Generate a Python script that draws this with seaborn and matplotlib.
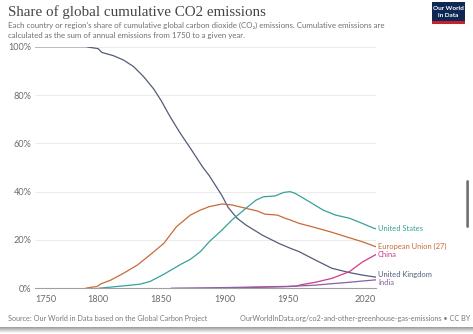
import numpy as np
import pandas as pd
import matplotlib
matplotlib.use("Agg")
import matplotlib.pyplot as plt
from matplotlib.patches import FancyBboxPatch, Rectangle
import seaborn as sns

# Share of global cumulative CO2 emissions (%), by country / region
uk_years = [1750, 1790, 1800, 1803, 1812, 1820, 1828, 1836, 1844, 1850, 1857, 1865,
            1873, 1883, 1888, 1893, 1898, 1903, 1910, 1917, 1930, 1943, 1952, 1959,
            1972, 1985, 1999, 2009, 2020]
uk_share = [100, 100, 99.2, 97.6, 96.3, 94.5, 91.8, 87.6, 82.5, 77.6, 71.0, 64.2,
            58.0, 50.0, 46.6, 42.5, 38.4, 33.4, 29.0, 26.2, 22.0, 18.6, 16.6, 15.2,
            11.7, 8.3, 6.5, 5.5, 4.6]

eu_years = [1790, 1794, 1799, 1802, 1810, 1820, 1831, 1841, 1852, 1862, 1873, 1881,
            1888, 1898, 1906, 1917, 1926, 1932, 1942, 1948, 1952, 1959, 1972, 1985,
            1999, 2009, 2020]
eu_share = [0, 0.4, 0.7, 1.8, 3.4, 6.2, 9.6, 13.8, 18.6, 25.5, 30.3, 32.4,
            33.8, 34.9, 34.5, 33.1, 32.0, 30.7, 30.3, 29.0, 28.3, 26.9, 25.1, 23.2,
            20.9, 19.3, 17.2]

us_years = [1800, 1820, 1833, 1841, 1852, 1865, 1873, 1881, 1888, 1898, 1906, 1917,
            1925, 1931, 1940, 1947, 1952, 1956, 1967, 1978, 1988, 1999, 2009, 2018,
            2020]
us_share = [0, 1.0, 1.7, 2.8, 5.8, 9.8, 12.0, 15.2, 19.3, 24.1, 28.3, 33.1,
            36.5, 37.9, 38.2, 39.7, 40.0, 39.3, 35.9, 32.4, 30.3, 29.0, 26.9, 24.9,
            24.6]

china_years = [1899, 1920, 1950, 1957, 1960, 1972, 1985, 1999, 2009, 2020]
china_share = [0.1, 0.3, 0.7, 0.9, 1.4, 2.5, 4.1, 6.9, 10.8, 14.0]

india_years = [1858, 1900, 1950, 1960, 1972, 1985, 1999, 2009, 2020]
india_share = [0.05, 0.3, 0.8, 1.0, 1.3, 1.9, 2.5, 3.0, 3.5]

series = {
    "United Kingdom": (uk_years, uk_share),
    "European Union (27)": (eu_years, eu_share),
    "United States": (us_years, us_share),
    "China": (china_years, china_share),
    "India": (india_years, india_share),
}
colors = {
    "United States": "#38a09a",
    "European Union (27)": "#c86a38",
    "China": "#cf3a8a",
    "United Kingdom": "#535c78",
    "India": "#8660a6",
}
label_y = {
    "United States": 24.6,
    "European Union (27)": 17.2,
    "China": 14.0,
    "United Kingdom": 5.8,
    "India": 2.3,
}
x_ticks = [1750, 1800, 1850, 1900, 1950, 2020]
y_ticks = [0, 20, 40, 60, 80, 100]

frames = [pd.DataFrame({"year": y, "share": v, "entity": k}) for k, (y, v) in series.items()]
df = pd.concat(frames, ignore_index=True)

sns.set_theme(style="white")
plt.rcParams["font.family"] = ["Lato", "DejaVu Sans"]

W, H = 473, 334
fig = plt.figure(figsize=(W / 100, H / 100), dpi=100)
fig.patch.set_facecolor("white")
ax = fig.add_axes([35 / W, (H - 288.3) / H, 341 / W, 241.6 / H])

sns.lineplot(data=df, x="year", y="share", hue="entity", palette=colors,
             linewidth=0.9, legend=False, ax=ax, estimator=None, sort=True)

ax.set_xlim(1750, 2020)
ax.set_ylim(0, 100)
ax.set_xlabel("")
ax.set_ylabel("")
for s in ["top", "right", "left"]:
    ax.spines[s].set_visible(False)
ax.spines["bottom"].set_color("#a0a0a0")
ax.spines["bottom"].set_linewidth(0.8)

ax.set_yticks(y_ticks)
ax.set_yticklabels([f"{t}%" for t in y_ticks])
ax.tick_params(axis="y", length=0, pad=2.5, labelsize=6.6, labelcolor="#6b6b6b")
ax.set_xticks(x_ticks)
ax.set_xticklabels([str(t) for t in x_ticks])
ax.tick_params(axis="x", length=3, width=0.6, color="#a0a0a0", pad=1.5,
               labelsize=6.6, labelcolor="#6b6b6b", direction="out")
xl = ax.get_xticklabels()
xl[0].set_horizontalalignment("left")
xl[-1].set_horizontalalignment("right")

for t in y_ticks[1:]:
    ax.axhline(t, color="#e8e8e8", linewidth=0.6, zorder=0)

for name, yv in label_y.items():
    ax.annotate(name, xy=(2020, yv), xytext=(1.5, 0), textcoords="offset points",
                color=colors[name], fontsize=5.4, va="center", ha="left",
                annotation_clip=False)

# header
fig.text(8 / W, 1 - 12 / H, "Share of global cumulative CO2 emissions",
         family=["Liberation Serif", "DejaVu Serif"], fontsize=10.8, color="#454545",
         va="center", ha="left")
fig.text(8 / W, 1 - 25.5 / H,
         "Each country or region's share of cumulative global carbon dioxide (CO\u2082) "
         "emissions. Cumulative emissions are",
         fontsize=5.65, color="#707070", va="center", ha="left")
fig.text(8 / W, 1 - 35.5 / H,
         "calculated as the sum of annual emissions from 1750 to a given year.",
         fontsize=5.65, color="#707070", va="center", ha="left")

# logo
fig.patches.append(Rectangle((431.5 / W, 1 - 23.5 / H), 33.5 / W, 21.5 / H,
                             transform=fig.transFigure, facecolor="#0f2753",
                             edgecolor="none"))
fig.patches.append(Rectangle((431.5 / W, 1 - 23.5 / H), 33.5 / W, 2.2 / H,
                             transform=fig.transFigure, facecolor="#c8202d",
                             edgecolor="none"))
fig.text(448.2 / W, 1 - 8.5 / H, "Our World", color="white", fontsize=4.6,
         ha="center", va="center", weight="bold")
fig.text(448.2 / W, 1 - 15.5 / H, "in Data", color="white", fontsize=4.6,
         ha="center", va="center", weight="bold")

# footer
fig.text(8 / W, 1 - 318 / H,
         "Source: Our World in Data based on the Global Carbon Project",
         fontsize=5.25, color="#7a7a7a", va="center", ha="left")
fig.text(470 / W, 1 - 318 / H,
         "OurWorldInData.org/co2-and-other-greenhouse-gas-emissions \u2022 CC BY",
         fontsize=5.25, color="#7a7a7a", va="center", ha="right")

# scroll indicator
fig.patches.append(FancyBboxPatch((466.3 / W, 1 - 228 / H), 2.6 / W, 48 / H,
                                  boxstyle="round,pad=0,rounding_size=0.004",
                                  transform=fig.transFigure, facecolor="#6e6e6e",
                                  edgecolor="none"))

# bottom frame shadow
for i, a in enumerate(np.linspace(0.55, 0.05, 6)):
    fig.patches.append(Rectangle((0, 1 - (328 + i) / H), 1, 1 / H,
                                 transform=fig.transFigure, facecolor="#555555",
                                 alpha=a, edgecolor="none"))

fig.savefig("out.png", dpi=100, facecolor="white")
